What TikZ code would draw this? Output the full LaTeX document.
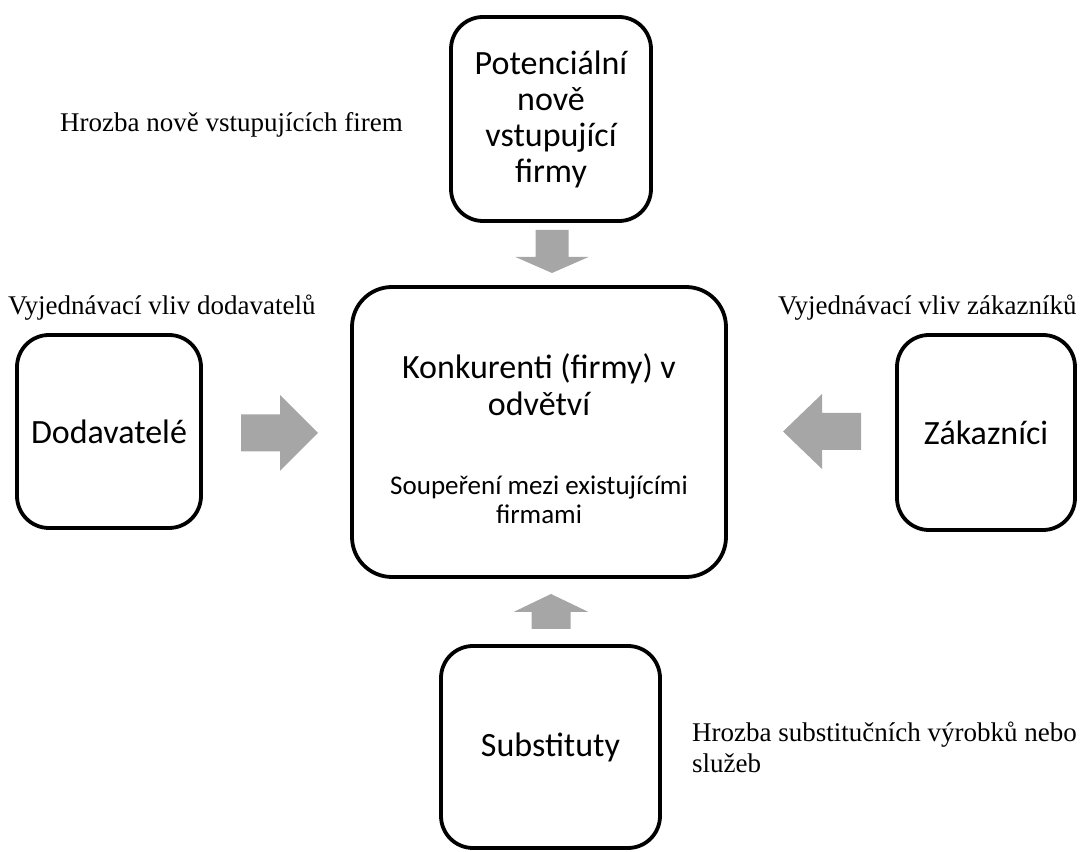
\documentclass[tikz,border=0pt]{standalone}
\usepackage{fontspec}
\setmainfont{Liberation Serif}
\newfontfamily\calibri{Carlito}
\usepackage{tikz}
\usetikzlibrary{positioning}
\definecolor{arrowgray}{RGB}{166,166,166}

\begin{document}
\begin{tikzpicture}[x=1pt, y=1pt,
                          forcebox/.style={rectangle, draw, line width=3.8pt, rounded corners=32pt, align=center, font=\calibri\fontsize{34}{36}\selectfont},
                          forcenote/.style={inner sep=0pt, anchor=west, align=left, font=\fontsize{27}{31}\selectfont},
                          pics/blockarrow/.style n args={4}{code={
                              \fill[arrowgray] (0,-#2) -- (#1-#4,-#2) -- (#1-#4,-#3) -- (#1,0) -- (#1-#4,#3) -- (#1-#4,#2) -- (0,#2) -- cycle;}},
                      ]
                      \useasboundingbox (0,0) rectangle (1080,852);
                      % Nodes
                      \node[forcebox, minimum width=374pt, minimum height=290pt, rounded corners=40pt] (rivals) at (539,420) {};
                      \node[inner sep=0pt, align=center, font=\calibri\fontsize{34}{37}\selectfont] (rivals_title) at (539,467) {Konkurenti (firmy) v\\odvětví};
                      \node[inner sep=0pt, align=center, font=\calibri\fontsize{27}{29}\selectfont] (rivals_sub) at (539,352) {Soupeření mezi existujícími\\firmami};

                      \node[forcebox, minimum width=200pt, minimum height=204pt] (entrants) at (551,733) {Potenciální\\nově\\vstupující\\firmy};
                      \node[forcebox, minimum width=184pt, minimum height=193pt] (suppliers) at (109,420.5) {Dodavatelé};
                      \node[forcebox, minimum width=178pt, minimum height=195pt] (buyers) at (986,419.5) {Zákazníci};
                      \node[forcebox, minimum width=219pt, minimum height=202pt] (substitutes) at (550.5,105) {Substituty};

                      \node[forcenote] (entrants_note) at (60,727) {Hrozba nově vstupujících firem};
                      \node[forcenote] (suppliers_note) at (8,544) {Vyjednávací vliv dodavatelů};
                      \node[forcenote] (buyers_note) at (778,544) {Vyjednávací vliv zákazníků};
                      \node[forcenote] (substitutes_note) at (692,105) {Hrozba substitučních výrobků nebo\\služeb};

                      % Arrows
                      \pic[rotate=-90] at (552,622) {blockarrow={43}{16.5}{36.5}{16}};
                      \pic at (241,419) {blockarrow={77}{18.5}{38}{38}};
                      \pic[rotate=180] at (861,420.5) {blockarrow={78}{18.5}{37.5}{39}};
                      \pic[rotate=90] at (551,223) {blockarrow={35}{19.5}{37.5}{18}};
                  \end{tikzpicture}
\end{document}
